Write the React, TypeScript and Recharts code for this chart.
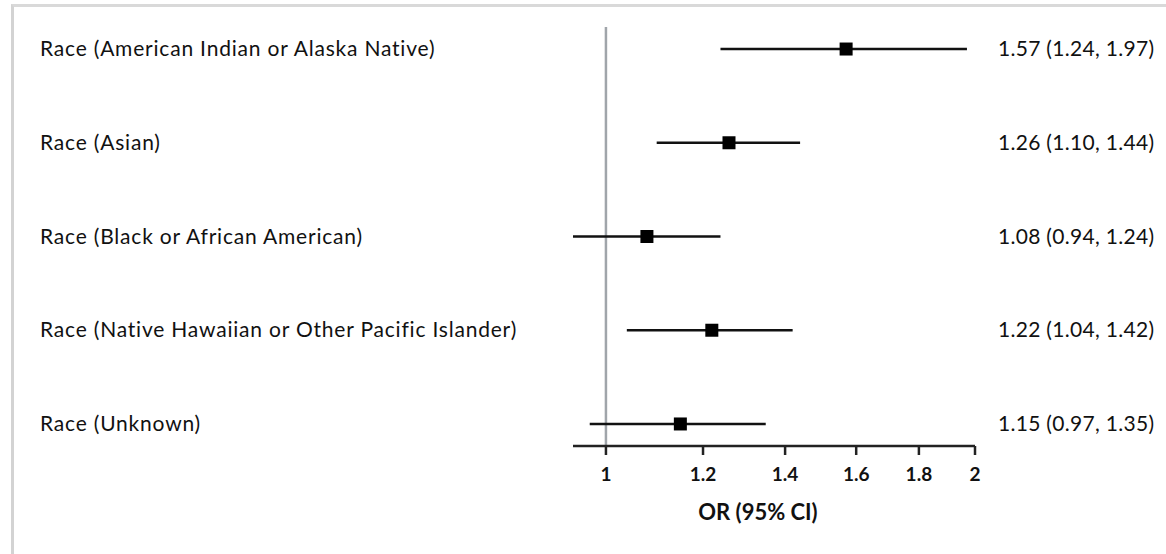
import React from 'react';
import {
  ScatterChart,
  Scatter,
  XAxis,
  YAxis,
  ErrorBar,
  ReferenceLine,
} from 'recharts';

// Forest plot: odds ratio by race with 95% CI (log x-axis)
const labels = [
  'Race (American Indian or Alaska Native)',
  'Race (Asian)',
  'Race (Black or African American)',
  'Race (Native Hawaiian or Other Pacific Islander)',
  'Race (Unknown)',
];
const oddsRatios = [1.57, 1.26, 1.08, 1.22, 1.15];
const lowerCI = [1.24, 1.1, 0.94, 1.04, 0.97];
const upperCI = [1.97, 1.44, 1.24, 1.42, 1.35];
const xTicks = [1, 1.2, 1.4, 1.6, 1.8, 2];

const fmt = (v: number) => v.toFixed(2);

const data = labels.map((label, i) => ({
  row: i + 1,
  label,
  or: oddsRatios[i],
  err: [oddsRatios[i] - lowerCI[i], upperCI[i] - oddsRatios[i]],
  stat: `${fmt(oddsRatios[i])} (${fmt(lowerCI[i])}, ${fmt(upperCI[i])})`,
}));

const FONT = 'Lato, "Open Sans", sans-serif';

const RowTick = (props: any) => {
  const { y, payload } = props;
  const d = data[payload.value - 1];
  if (!d) return null;
  return (
    <g>
      <text x={40} y={y} dy={7} fontSize={21} letterSpacing={0.8} fill="#111" fontFamily={FONT}>
        {d.label}
      </text>
      <text x={998} y={y} dy={7} fontSize={21} letterSpacing={0.3} fill="#111" fontFamily={FONT}>
        {d.stat}
      </text>
    </g>
  );
};

const Square = (props: any) => {
  const { cx, cy } = props;
  return <rect x={cx - 6.5} y={cy - 6.5} width={13} height={13} fill="#000" />;
};

export default function App() {
  return (
    <div
      style={{
        position: 'absolute',
        left: 0,
        top: 0,
        width: 1166,
        height: 554,
        background: '#fff',
        overflow: 'hidden',
      }}
    >
      <div
        style={{
          position: 'absolute',
          left: 11,
          top: 4,
          right: 0,
          bottom: 0,
          borderLeft: '3px solid #d3d3d3',
          borderTop: '3px solid #d9d9d9',
        }}
      />
      <div style={{ position: 'absolute', left: 0, top: 0 }}>
        <ScatterChart
          width={1166}
          height={554}
          margin={{ top: 27, right: 191, bottom: 28, left: 0 }}
        >
          <XAxis
            type="number"
            dataKey="or"
            scale="log"
            domain={[0.94, 2]}
            ticks={xTicks}
            allowDataOverflow
            height={80}
            stroke="#222"
            strokeWidth={2.5}
            tickSize={9}
            tick={{ fontSize: 19, fontWeight: 700, fill: '#111', fontFamily: FONT, dy: 11 }}
            tickFormatter={(v: number) => String(v)}
            label={{
              value: 'OR (95% CI)',
              position: 'insideTop',
              offset: 58,
              dx: -16,
              fontSize: 22,
              fontWeight: 700,
              fill: '#111',
              fontFamily: FONT,
            }}
          />
          <YAxis
            type="number"
            dataKey="row"
            domain={[0.765, 5.235]}
            reversed
            ticks={[1, 2, 3, 4, 5]}
            allowDataOverflow
            axisLine={false}
            tickLine={false}
            width={573}
            tick={<RowTick />}
          />
          <ReferenceLine x={1} stroke="#a0a5aa" strokeWidth={2.5} />
          <Scatter data={data} shape={<Square />} isAnimationActive={false}>
            <ErrorBar
              dataKey="err"
              direction="x"
              width={0}
              stroke="#111"
              strokeWidth={2.5}
            />
          </Scatter>
        </ScatterChart>
      </div>
    </div>
  );
}
